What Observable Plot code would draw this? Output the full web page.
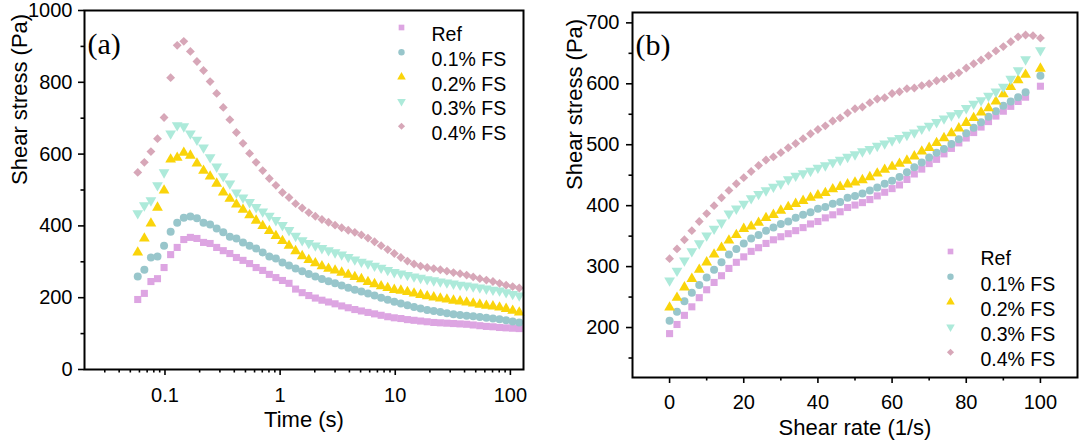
<!DOCTYPE html>
<html>
<head>
<meta charset="utf-8">
<script src="https://cdn.jsdelivr.net/npm/d3@7"></script>
<script src="https://cdn.jsdelivr.net/npm/@observablehq/plot@0.6"></script>
<style>
  body { margin: 0; background: #fff; }
  #wrap { display: flex; width: 1080px; height: 446px; }
</style>
</head>
<body>
<div id="wrap"></div>
<script>
// ---------- series ----------
const seriesNames = ["Ref", "0.1% FS", "0.2% FS", "0.3% FS", "0.4% FS"];
const seriesColors = ["#DDA5E2", "#98C6CB", "#FAD40A", "#ADEADA", "#D7A7B8"];

// ---------- panel (a): shear stress vs time ----------
const timeS = [0.058, 0.0662, 0.0755, 0.0861, 0.0982, 0.112, 0.1277, 0.1457, 0.1662, 0.1895,
  0.2162, 0.2466, 0.2812, 0.3208, 0.3659, 0.4173, 0.476, 0.543, 0.619, 0.706,
  0.806, 0.919, 1.048, 1.195, 1.363, 1.555, 1.774, 2.023, 2.308, 2.632,
  3.002, 3.425, 3.906, 4.455, 5.082, 5.796, 6.611, 7.541, 8.601, 9.81,
  11.19, 12.76, 14.56, 16.6, 18.94, 21.6, 24.64, 28.1, 32.05, 36.56,
  41.7, 47.56, 54.25, 61.88, 70.58, 80.5, 91.82, 104.7, 119.4];
const stressRefA = [195, 212, 245, 253, 284, 320, 340, 362, 368, 365,
  354, 351, 340, 331, 323, 312, 304, 295, 284, 276,
  265, 256, 248, 240, 224, 214, 206, 199, 193, 188,
  183, 177, 172, 167, 163, 159, 155, 151, 147, 144,
  142, 139, 137, 135, 133, 131, 130, 129, 128, 127,
  126, 124, 122, 120, 119, 117, 116, 115, 114];
const stressFS01A = [259, 278, 312, 315, 345, 384, 409, 423, 426, 421,
  409, 404, 393, 382, 370, 365, 354, 345, 337, 326,
  315, 309, 298, 290, 281, 274, 266, 259, 252, 246,
  240, 234, 228, 222, 217, 212, 206, 200, 194, 189,
  184, 179, 174, 170, 166, 163, 160, 157, 154, 152,
  150, 148, 146, 144, 142, 140, 137, 134, 131];
const stressFS02A = [326, 365, 407, 451, 499, 585, 590, 604, 596, 574,
  554, 538, 518, 493, 476, 460, 445, 430, 415, 400,
  386, 372, 358, 345, 330, 316, 305, 296, 288, 281,
  276, 270, 264, 258, 252, 244, 238, 232, 227, 222,
  220, 216, 212, 208, 204, 201, 198, 195, 192, 190,
  187, 184, 181, 178, 176, 173, 169, 164, 159];
const stressFS03A = [435, 457, 471, 513, 549, 657, 680, 677, 657, 640,
  618, 591, 565, 538, 518, 493, 479, 466, 452, 440,
  428, 416, 402, 388, 372, 360, 352, 345, 338, 332,
  326, 320, 313, 306, 300, 295, 289, 283, 277, 271,
  267, 263, 259, 255, 251, 248, 245, 242, 239, 236,
  234, 231, 228, 225, 222, 220, 215, 210, 206];
const stressFS04A = [549, 577, 607, 643, 702, 813, 903, 914, 886, 858,
  833, 802, 769, 730, 696, 660, 630, 602, 577, 554,
  532, 513, 493, 479, 462, 450, 437, 427, 418, 410,
  402, 395, 388, 382, 375, 366, 356, 345, 334, 323,
  312, 302, 294, 288, 284, 281, 278, 274, 270, 267,
  263, 258, 253, 249, 245, 240, 235, 231, 227];
const timeTicks = [0.1, 1, 10, 100];
const timeMinorTicks = [0.03, 0.04, 0.05, 0.06, 0.07, 0.08, 0.09,
  0.2, 0.3, 0.4, 0.5, 0.6, 0.7, 0.8, 0.9,
  2, 3, 4, 5, 6, 7, 8, 9,
  20, 30, 40, 50, 60, 70, 80, 90];
const stressTicksA = [0, 200, 400, 600, 800, 1000];
const stressMinorTicksA = [100, 300, 500, 700, 900];

// ---------- panel (b): shear stress vs shear rate ----------
const rate = [0, 2, 4, 6, 8, 10, 12, 14, 16, 18, 20, 22, 24, 26, 28, 30, 32, 34, 36, 38,
  40, 42, 44, 46, 48, 50, 52, 54, 56, 58, 60, 62, 64, 66, 68, 70, 72, 74, 76, 78,
  80, 82, 84, 86, 88, 90, 92, 94, 96, 98, 100];
const stressRefB = [190, 205, 220, 234, 249, 262, 274, 285, 297, 307,
  316, 325, 331, 338, 344, 349, 354, 359, 364, 370,
  374, 380, 385, 390, 397, 401, 405, 410, 416, 422,
  428, 434, 443, 452, 460, 469, 476, 485, 494, 503,
  511, 520, 529, 538, 547, 555, 563, 571, 578, null, 596];
const stressFS01B = [211, 226, 243, 257, 270, 282, 295, 307, 320, 329,
  338, 346, 352, 359, 364, 370, 374, 380, 385, 389,
  395, 398, 403, 406, 413, 416, 420, 425, 430, 436,
  441, 447, 455, 463, 471, 479, 487, 493, 501, 509,
  519, 528, 537, 546, 555, 564, 571, 578, 586, null, 613];
const stressFS02B = [233, 249, 266, 280, 295, 307, 320, 331, 343, 352,
  362, 366, 372, 380, 385, 392, 398, 403, 408, 413,
  417, 421, 427, 431, 435, 438, 442, 447, 453, 459,
  464, 469, 474, 481, 489, 495, 503, 511, 519, 527,
  536, 544, 553, 560, 571, 583, 595, 606, 615, null, 625];
const stressFS03B = [277, 293, 310, 325, 338, 351, 362, 372, 387, 395,
  403, 412, 419, 425, 431, 436, 443, 449, 453, 457,
  462, 466, 471, 475, 480, 484, 489, 493, 498, 502,
  507, 511, 516, 520, 526, 531, 537, 543, 548, 552,
  560, 567, 573, 580, 587, 595, 608, 622, 640, null, 655];
const stressFS04B = [313, 329, 344, 359, 374, 387, 400, 413, 425, 436,
  446, 456, 466, 475, 480, 487, 495, 502, 510, 518,
  525, 531, 539, 544, 552, 559, 562, 569, 575, 577,
  584, 587, 592, 593, 597, 600, 605, 608, 613, 618,
  626, 633, 639, 646, 654, 661, 669, 677, 680, 679, 675];
const rateTicks = [0, 20, 40, 60, 80, 100];
const rateMinorTicks = [10, 30, 50, 70, 90];
const stressTicksB = [200, 300, 400, 500, 600, 700];
const stressMinorTicksB = [150, 250, 350, 450, 550, 650];

// ---------- symbols ----------
const triangleDown = {
  draw(context, size) {
    const y = -Math.sqrt(size / (Math.sqrt(3) * 3));
    context.moveTo(0, -y * 2);
    context.lineTo(-Math.sqrt(3) * y, y);
    context.lineTo(Math.sqrt(3) * y, y);
    context.closePath();
  }
};
const diamondSym = {
  draw(context, size) {
    const r = Math.sqrt(size) * 0.62625;
    context.moveTo(0, -r);
    context.lineTo(r, 0);
    context.lineTo(0, r);
    context.lineTo(-r, 0);
    context.closePath();
  }
};
const seriesSymbols = ["square", "circle", "triangle", triangleDown, diamondSym];

function rows(xs, ys) {
  return xs.map((x, i) => ({x, y: ys[i]})).filter(d => d.y != null);
}

const FONT = '"Liberation Sans", Arial, Helvetica, sans-serif';

function buildPanel(cfg) {
  const marks = [];
  cfg.series.forEach((ys, i) => {
    marks.push(Plot.dot(rows(cfg.xs, ys), {
      x: "x", y: "y", r: 4, symbol: seriesSymbols[i], fill: seriesColors[i], stroke: "none"
    }));
  });
  // axes
  marks.push(Plot.axisX({ticks: cfg.xTicks, tickSize: 6, tickPadding: cfg.xPad, tickFormat: d => String(d),
    label: null, fontSize: 20, strokeWidth: 1.6}));
  marks.push(Plot.axisX({ticks: cfg.xMinor, tickSize: 3.5, tickFormat: () => "", label: null, strokeWidth: 1.6}));
  marks.push(Plot.axisY({ticks: cfg.yTicks, tickSize: 6, tickPadding: cfg.yPad, tickFormat: d => String(d),
    label: null, fontSize: 20, strokeWidth: 1.6}));
  marks.push(Plot.axisY({ticks: cfg.yMinor, tickSize: 3.5, tickFormat: () => "", label: null, strokeWidth: 1.6}));
  marks.push(Plot.frame({stroke: "black", strokeWidth: 2}));
  // axis titles
  marks.push(Plot.text([cfg.xTitle], {text: d => d, frameAnchor: "bottom", dy: cfg.xTitleDy, fontSize: 22}));
  marks.push(Plot.text([cfg.yTitle], {text: d => d, frameAnchor: "left", dx: cfg.yTitleDx, dy: -5, rotate: -90, fontSize: 22}));
  // panel tag
  marks.push(Plot.text([cfg.tag], {text: d => d, frameAnchor: "top-left", dx: 3, dy: cfg.tagDy, textAnchor: "start",
    fontFamily: '"Liberation Serif", "Times New Roman", serif', fontSize: 30}));
  // legend
  seriesNames.forEach((name, i) => {
    const dy = cfg.legY + i * cfg.legStep;
    marks.push(Plot.dot([name], {frameAnchor: "top-left", dx: cfg.legX, dy, r: 3.2,
      symbol: seriesSymbols[i], fill: seriesColors[i], stroke: "none"}));
    marks.push(Plot.text([name], {text: d => d, frameAnchor: "top-left", dx: cfg.legX + 30, dy,
      textAnchor: "start", fontSize: 19.5}));
  });
  return Plot.plot({
    width: 540, height: 446,
    marginLeft: cfg.ml, marginRight: cfg.mr, marginTop: cfg.mt, marginBottom: cfg.mb,
    x: cfg.x, y: cfg.y,
    style: {fontFamily: FONT, fontSize: "20px", color: "#000", background: "#fff", overflow: "visible"},
    marks
  });
}

const panelA = buildPanel({
  xs: timeS,
  series: [stressRefA, stressFS01A, stressFS02A, stressFS03A, stressFS04A],
  x: {type: "log", domain: [0.02, 130]},
  y: {domain: [0, 1000]},
  ml: 84, mr: 17, mt: 10, mb: 77,
  xTicks: timeTicks, xMinor: timeMinorTicks, yTicks: stressTicksA, yMinor: stressMinorTicksA,
  xPad: 12, yPad: 6,
  xTitle: "Time (s)", xTitleDy: 57,
  yTitle: "Shear stress (Pa)", yTitleDx: -65,
  tag: "(a)", tagDy: 22,
  legX: 317, legY: 17, legStep: 24.7
});

const panelB = buildPanel({
  xs: rate,
  series: [stressRefB, stressFS01B, stressFS02B, stressFS03B, stressFS04B],
  x: {domain: [-10, 110]},
  y: {domain: [118, 717]},
  ml: 92, mr: 3, mt: 12, mb: 69,
  xTicks: rateTicks, xMinor: rateMinorTicks, yTicks: stressTicksB, yMinor: stressMinorTicksB,
  xPad: 11, yPad: 7,
  xTitle: "Shear rate (1/s)", xTitleDy: 57,
  yTitle: "Shear stress (Pa)", yTitleDx: -58,
  tag: "(b)", tagDy: 21.5,
  legX: 318, legY: 239, legStep: 25.2
});

const wrap = document.getElementById("wrap");
wrap.appendChild(panelA);
wrap.appendChild(panelB);
</script>
</body>
</html>
